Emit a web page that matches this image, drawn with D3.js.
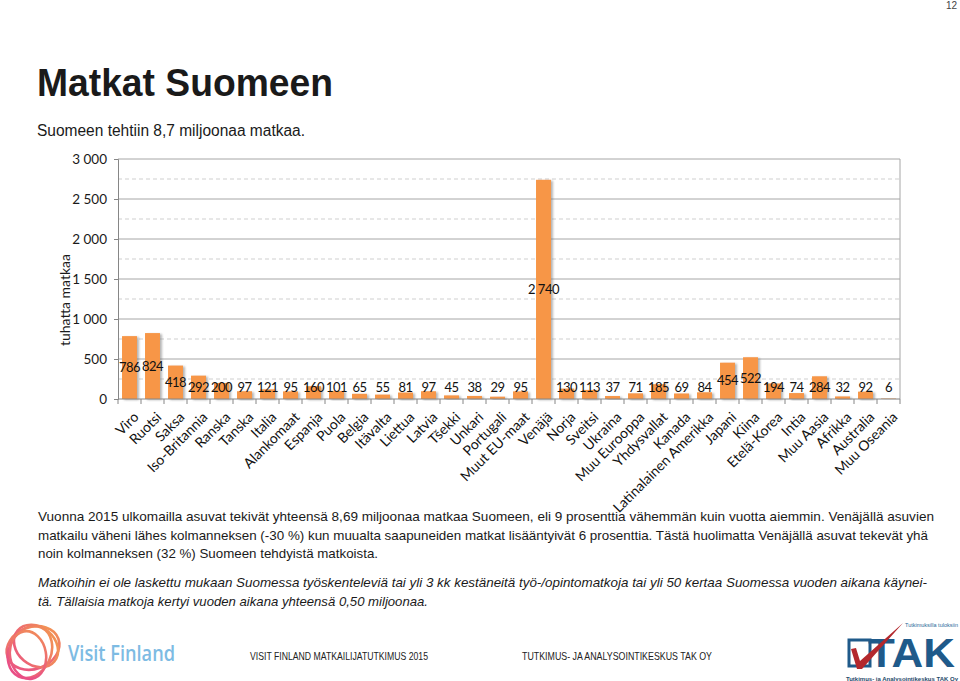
<!DOCTYPE html>
<html><head><meta charset="utf-8">
<script src="https://cdn.jsdelivr.net/npm/d3@7"></script>
<style>
html,body{margin:0;padding:0;background:#fff;}
svg{display:block;}
</style></head>
<body>
<svg id="page" width="960" height="681"></svg>
<script>
const categories = ["Viro","Ruotsi","Saksa","Iso-Britannia","Ranska","Tanska","Italia","Alankomaat","Espanja","Puola","Belgia","Itävalta","Liettua","Latvia","Tšekki","Unkari","Portugali","Muut EU-maat","Venäjä","Norja","Sveitsi","Ukraina","Muu Eurooppa","Yhdysvallat","Kanada","Latinalainen Amerikka","Japani","Kiina","Etelä-Korea","Intia","Muu Aasia","Afrikka","Australia","Muu Oseania"];
const values = [786,824,418,292,200,97,121,95,160,101,65,55,81,97,45,38,29,95,2740,130,113,37,71,185,69,84,454,522,194,74,284,32,92,6];
const yTicks = [0,500,1000,1500,2000,2500,3000];
const yTickLabels = ["0","500","1 000","1 500","2 000","2 500","3 000"];
const yMinorTicks = [250,750,1250,1750,2250,2750];
const yTitle = "tuhatta matkaa";
const title = "Matkat Suomeen";
const subtitle = "Suomeen tehtiin 8,7 miljoonaa matkaa.";
const paragraph = [
  "Vuonna 2015 ulkomailla asuvat tekivät yhteensä 8,69 miljoonaa matkaa Suomeen, eli 9 prosenttia vähemmän kuin vuotta aiemmin. Venäjällä asuvien",
  "matkailu väheni lähes kolmanneksen (-30 %) kun muualta saapuneiden matkat lisääntyivät 6 prosenttia. Tästä huolimatta Venäjällä asuvat tekevät yhä",
  "noin kolmanneksen (32 %) Suomeen tehdyistä matkoista."
];
const note = [
  "Matkoihin ei ole laskettu mukaan Suomessa työskenteleviä tai yli 3 kk kestäneitä työ-/opintomatkoja tai yli 50 kertaa Suomessa vuoden aikana käynei-",
  "tä. Tällaisia matkoja kertyi vuoden aikana yhteensä 0,50 miljoonaa."
];

const svg = d3.select("#page");
const defs = svg.append("defs");
const f = defs.append("filter").attr("id","shadow").attr("x","-20%").attr("y","-20%").attr("width","160%").attr("height","140%");
f.append("feDropShadow").attr("dx",2).attr("dy",1).attr("stdDeviation",1).attr("flood-color","#777").attr("flood-opacity",0.55);

const PAGEFONT = "'Liberation Sans', Arial, sans-serif";
const CHARTFONT = "Lato, 'Open Sans', sans-serif";

// page number
svg.append("text").attr("x",957).attr("y",9).attr("text-anchor","end")
  .style("font-family",PAGEFONT).style("font-size","10px").attr("fill","#444").text("12");

// title
svg.append("text").attr("x",37).attr("y",96).attr("textLength",296).attr("lengthAdjust","spacingAndGlyphs")
  .style("font-family",PAGEFONT).style("font-weight","bold").style("font-size","38px").attr("fill","#1a1a1a").text(title);
svg.append("text").attr("x",37).attr("y",136).attr("textLength",268).attr("lengthAdjust","spacingAndGlyphs")
  .style("font-family",PAGEFONT).style("font-size","16px").attr("fill","#1a1a1a").text(subtitle);

// chart
const x0 = 118, x1 = 900;
const x = d3.scaleBand().domain(categories).range([x0,x1]).paddingInner(0.35).paddingOuter(0.175);
const y = d3.scaleLinear().domain([0,3000]).range([399,159]);
const g = svg.append("g");

// minor dashed gridlines
g.selectAll("line.minor").data(yMinorTicks).join("line")
  .attr("x1",x0).attr("x2",x1).attr("y1",d=>y(d)).attr("y2",d=>y(d))
  .attr("stroke","#cfcfcf").attr("stroke-width",1).attr("stroke-dasharray","4,3");
// major gridlines
g.selectAll("line.major").data(yTicks.slice(1)).join("line")
  .attr("x1",x0).attr("x2",x1).attr("y1",d=>y(d)).attr("y2",d=>y(d))
  .attr("stroke","#a6a6a6").attr("stroke-width",1);
// right border
g.append("line").attr("x1",x1).attr("x2",x1).attr("y1",y(3000)).attr("y2",y(0)).attr("stroke","#a6a6a6");

// bars
g.selectAll("rect.bar").data(values).join("rect")
  .attr("x",(d,i)=>x(categories[i])).attr("width",x.bandwidth())
  .attr("y",d=>y(d)).attr("height",d=>y(0)-y(d))
  .attr("fill","#F79646").attr("filter","url(#shadow)");

// y axis
const yAxis = d3.axisLeft(y).tickValues(yTicks).tickFormat((d,i)=>yTickLabels[i]).tickSize(4).tickPadding(7);
const ya = g.append("g").attr("transform",`translate(${x0},0)`).call(yAxis);
ya.select(".domain").attr("stroke","#868686");
ya.selectAll(".tick line").attr("stroke","#868686");
ya.selectAll(".tick text").style("font-family",CHARTFONT).style("font-size","13.5px").attr("fill","#1a1a1a");

// x axis
const xAxis = d3.axisBottom(x).tickSize(0).tickPadding(0);
const xa = g.append("g").attr("transform",`translate(0,${y(0)})`).call(xAxis);
xa.select(".domain").attr("stroke","#868686").attr("d",`M${x0},0H${x1}`);
xa.selectAll(".tick text")
  .style("font-family",CHARTFONT).style("font-size","14px").attr("fill","#111")
  .attr("text-anchor","end").attr("dy",0).attr("y",0)
  .attr("transform","translate(10,19) rotate(-45)");
// boundary tick marks
const bounds = d3.range(categories.length+1).map(i=>x0 + i*x.step());
xa.selectAll("line.bt").data(bounds).join("line")
  .attr("x1",d=>d).attr("x2",d=>d).attr("y1",0).attr("y2",5).attr("stroke","#868686");

// value labels
g.selectAll("text.val").data(values).join("text")
  .attr("x",(d,i)=>x(categories[i])+x.bandwidth()/2)
  .attr("y",d=>Math.min(y(d/2), y(0)-12))
  .attr("dy","0.35em").attr("text-anchor","middle")
  .style("font-family",CHARTFONT).style("font-size","13px").style("letter-spacing","-0.5px").attr("fill","#111")
  .text(d=>d3.format(",")(d).replace(/,/g," "));

// y title
svg.append("text").attr("transform","translate(70,300) rotate(-90)").attr("text-anchor","middle")
  .style("font-family",CHARTFONT).style("font-size","14px").attr("fill","#1a1a1a").text(yTitle);

// paragraphs
const pEnds = [934,928,378];
const pY = [521,540,558];
paragraph.forEach((t,i)=>{
  svg.append("text").attr("x",38).attr("y",pY[i]).attr("textLength",pEnds[i]-38).attr("lengthAdjust","spacingAndGlyphs")
    .style("font-family",PAGEFONT).style("font-size","13.5px").attr("fill","#1a1a1a").text(t);
});
const nEnds = [927,428];
const nY = [587,606];
note.forEach((t,i)=>{
  svg.append("text").attr("x",38).attr("y",nY[i]).attr("textLength",nEnds[i]-38).attr("lengthAdjust","spacingAndGlyphs")
    .style("font-family",PAGEFONT).style("font-size","13.5px").style("font-style","italic").attr("fill","#1a1a1a").text(t);
});

// footer texts
svg.append("text").attr("x",250).attr("y",660).attr("textLength",178).attr("lengthAdjust","spacingAndGlyphs")
  .style("font-family",PAGEFONT).style("font-size","11px").attr("fill","#222").text("VISIT FINLAND MATKAILIJATUTKIMUS 2015");
svg.append("text").attr("x",522).attr("y",660).attr("textLength",190).attr("lengthAdjust","spacingAndGlyphs")
  .style("font-family",PAGEFONT).style("font-size","11px").attr("fill","#222").text("TUTKIMUS- JA ANALYSOINTIKESKUS TAK OY");

// Visit Finland logo
const lg = defs.append("linearGradient").attr("id","vfg").attr("gradientUnits","userSpaceOnUse")
  .attr("x1",50).attr("y1",618).attr("x2",15).attr("y2",680);
lg.append("stop").attr("offset","0%").attr("stop-color","#F4A04A");
lg.append("stop").attr("offset","100%").attr("stop-color","#E8478C");
const vf = svg.append("g").attr("fill","none").attr("stroke","url(#vfg)").attr("stroke-width",2.6);
[[33,648,27,21,-20],[30,652,21,27,25],[36,646,24,19,40],[28,655,18,24,-10]].forEach(e=>{
  vf.append("ellipse").attr("cx",e[0]).attr("cy",e[1]).attr("rx",e[2]).attr("ry",e[3])
    .attr("transform",`rotate(${e[4]},${e[0]},${e[1]})`);
});
svg.append("text").attr("x",68).attr("y",661).attr("textLength",107).attr("lengthAdjust","spacingAndGlyphs")
  .style("font-family","'Open Sans', sans-serif").style("font-weight","600").style("font-size","22px").attr("fill","#7DBBE3").text("Visit Finland");

// TAK logo
svg.append("text").attr("x",958).attr("y",627).attr("text-anchor","end")
  .style("font-family",PAGEFONT).style("font-size","5.5px").attr("fill","#2a6a9a").text("Tutkimuksilla tuloksiin");
svg.append("rect").attr("x",849).attr("y",640).attr("width",21).attr("height",26)
  .attr("fill","none").attr("stroke","#1f5a8a").attr("stroke-width",3);
svg.append("text").attr("x",868).attr("y",667).attr("textLength",87).attr("lengthAdjust","spacingAndGlyphs")
  .style("font-family",PAGEFONT).style("font-weight","bold").style("font-size","40px").attr("fill","#1f5a8a").text("TAK");
svg.append("path").attr("d","M851,649 L856,648 L860,661 L903,623 L862,669 L857,669 Z").attr("fill","#b3282d");
svg.append("text").attr("x",846).attr("y",680.5).attr("textLength",112).attr("lengthAdjust","spacingAndGlyphs")
  .style("font-family",PAGEFONT).style("font-weight","bold").style("font-size","5px").attr("fill","#1f4a6a").text("Tutkimus- ja Analysointikeskus TAK Oy");
</script>
</body></html>
